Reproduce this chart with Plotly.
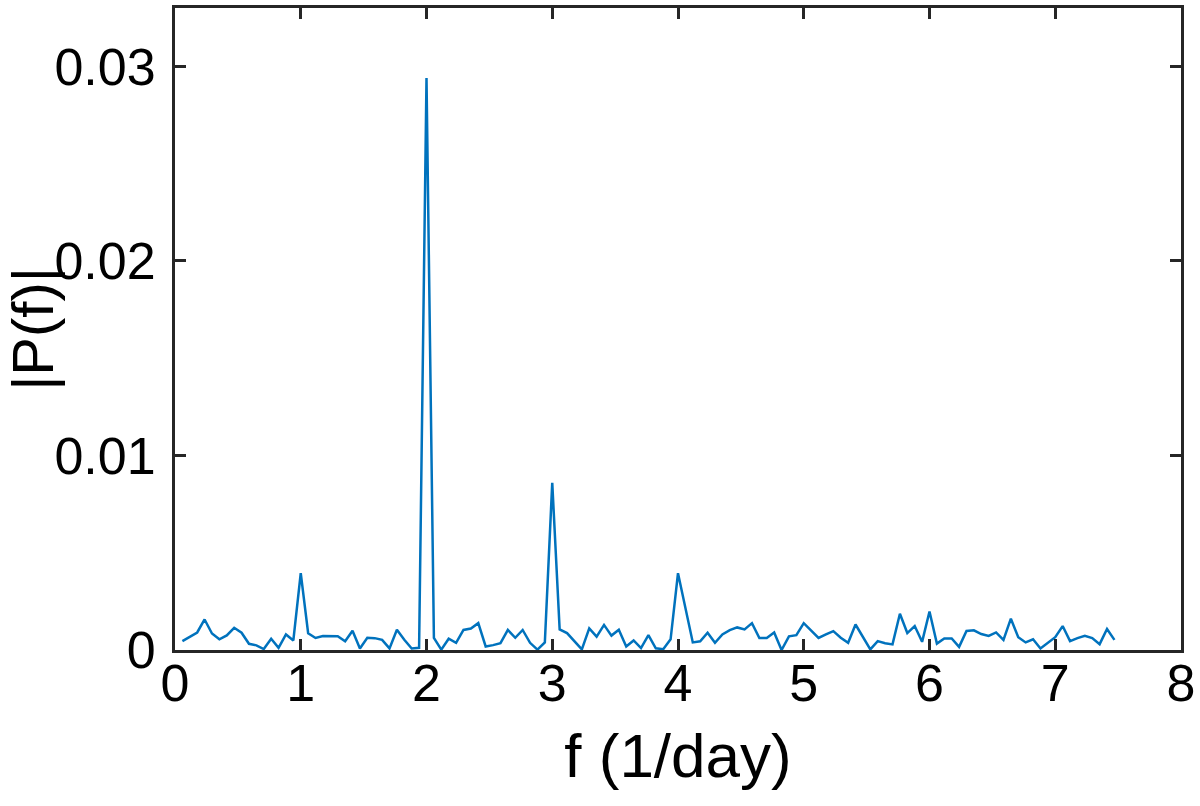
import plotly.graph_objects as go

# Frequency grid: uniform bins of 1/17 day^-1 starting at the first bin
F_START = 1.0 / 17.0
F_STEP = 1.0 / 17.0

# |P(f)| values (units of 1e-3)
P_milli = [
    0.46, 0.67, 0.90, 1.57, 0.85, 0.55, 0.75, 1.14, 0.89, 0.32,
    0.24, 0.05, 0.58, 0.11, 0.80, 0.49, 3.95, 0.86, 0.62, 0.72,
    0.71, 0.71, 0.45, 0.99, 0.08, 0.63, 0.61, 0.52, 0.08, 1.04,
    0.53, 0.08, 0.11, 29.4, 0.62, 0.02, 0.58, 0.37, 1.03, 1.10,
    1.38, 0.18, 0.25, 0.35, 1.03, 0.63, 1.03, 0.37, 0.02, 0.39,
    8.60, 1.06, 0.87, 0.46, 0.03, 1.11, 0.69, 1.29, 0.74, 1.04,
    0.18, 0.49, 0.10, 0.76, 0.09, 0.04, 0.55, 3.95, 2.20, 0.39,
    0.45, 0.89, 0.37, 0.80, 1.02, 1.16, 1.06, 1.38, 0.62, 0.62,
    0.90, 0.00, 0.70, 0.76, 1.38, 1.00, 0.62, 0.80, 0.97, 0.63,
    0.37, 1.31, 0.68, 0.03, 0.46, 0.35, 0.29, 1.86, 0.87, 1.23,
    0.42, 1.98, 0.33, 0.59, 0.59, 0.16, 0.98, 1.01, 0.82, 0.72,
    0.90, 0.52, 1.61, 0.66, 0.39, 0.55, 0.08, 0.38, 0.66, 1.23,
    0.46, 0.61, 0.73, 0.61, 0.30, 1.08, 0.52,
]
P = [v * 1e-3 for v in P_milli]

X_TICKS = [0, 1, 2, 3, 4, 5, 6, 7, 8]
Y_TICKS = [0, 0.01, 0.02, 0.03]
Y_TICK_LABELS = ["0", "0.01", "0.02", "0.03"]

AXIS_COLOR = "#262626"
FONT = "Liberation Sans, Arial, sans-serif"

fig = go.Figure(
    go.Scatter(
        y=P,
        x0=F_START,
        dx=F_STEP,
        mode="lines",
        line=dict(color="#0072BD", width=2.5),
        showlegend=False,
    )
)

axis_common = dict(
    showline=True,
    linecolor=AXIS_COLOR,
    linewidth=3,
    mirror="ticks",
    ticks="inside",
    ticklen=11,
    tickwidth=3,
    tickcolor=AXIS_COLOR,
    showgrid=False,
    zeroline=False,
    tickfont=dict(family=FONT, size=52, color="#000000"),
)

fig.update_xaxes(
    range=[0, 8],
    tickvals=X_TICKS,
    ticklabelstandoff=-14,
    title=dict(text="f (1/day)", font=dict(family=FONT, size=62, color="#000000"), standoff=23),
    **axis_common,
)
fig.update_yaxes(
    range=[0, 0.033],
    tickvals=Y_TICKS,
    ticktext=Y_TICK_LABELS,
    ticklabelstandoff=6,
    title=dict(text="|P(f)|", font=dict(family=FONT, size=58, color="#000000"), standoff=2),
    **axis_common,
)

fig.update_layout(
    width=1200,
    height=806,
    margin=dict(l=175, r=18, t=5, b=156),
    paper_bgcolor="white",
    plot_bgcolor="white",
)

fig.write_html(
    "out.html",
    config={"displayModeBar": False},
    post_script="document.body.style.margin='0px';",
)
